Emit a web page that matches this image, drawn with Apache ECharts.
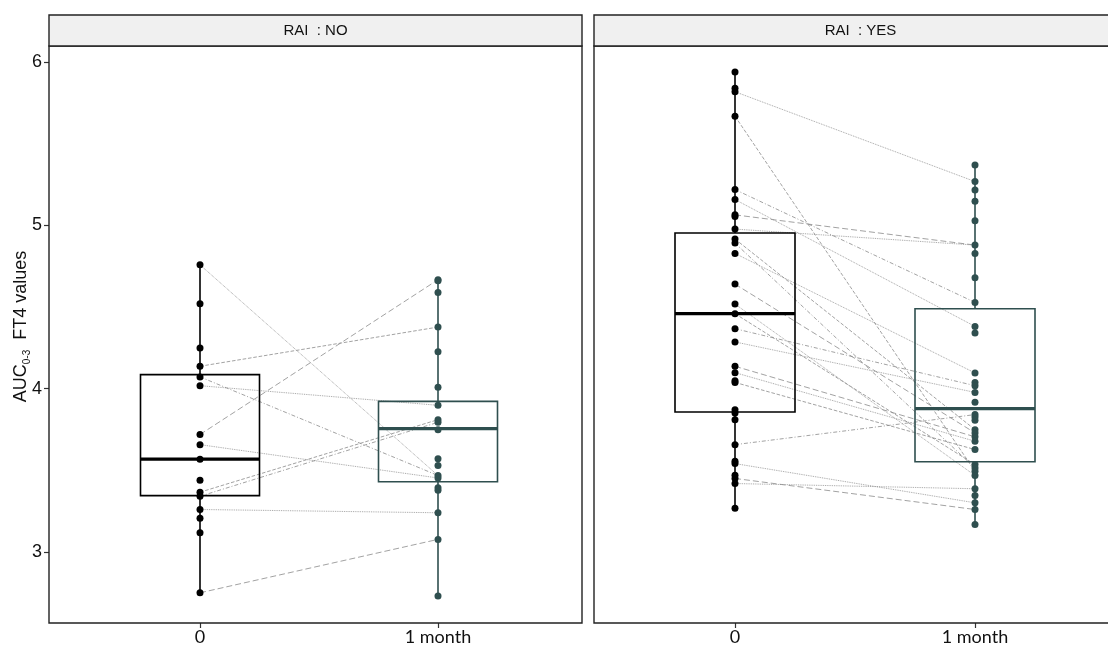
<!DOCTYPE html>
<html>
<head>
<meta charset="utf-8">
<script src="https://cdn.jsdelivr.net/npm/echarts@6/dist/echarts.min.js"></script>
<style>html,body{margin:0;padding:0;background:#fff}#c{width:1108px;height:649px}</style>
</head>
<body>
<div id="c"></div>
<script>
// ---------- data ----------
const timeLabels = ["0", "1 month"];
const panelTitles = ["RAI  : NO", "RAI  : YES"];
const yTicks = [3, 4, 5, 6];

// RAI : NO
const noBaseline = [4.758, 4.52, 4.249, 4.137, 4.072, 4.018, 3.719, 3.657, 3.568, 3.439, 3.366, 3.341, 3.26, 3.207, 3.117, 2.75];
const noMonth = [4.667, 4.66, 4.589, 4.377, 4.226, 4.008, 3.898, 3.81, 3.794, 3.749, 3.57, 3.529, 3.468, 3.453, 3.393, 3.378, 3.24, 3.077, 2.73];
const noPairs = [[4.758, 3.468], [4.137, 4.377], [4.072, 3.468], [4.018, 3.898], [3.719, 4.667], [3.657, 3.453], [3.366, 3.81], [3.341, 3.794], [3.26, 3.24], [2.75, 3.077]];
const noBox0 = [2.75, 3.345, 3.568, 4.086, 4.758];   // min, Q1, median, Q3, max
const noBox1 = [2.73, 3.43, 3.755, 3.922, 4.667];

// RAI : YES
const yesBaseline = [5.939, 5.839, 5.818, 5.668, 5.219, 5.158, 5.064, 5.054, 4.977, 4.916, 4.891, 4.828, 4.64, 4.518, 4.459, 4.367, 4.286, 4.137, 4.098, 4.049, 4.038, 3.871, 3.851, 3.81, 3.657, 3.555, 3.541, 3.47, 3.45, 3.419, 3.268];
const yesMonth = [5.37, 5.268, 5.217, 5.148, 5.028, 4.879, 4.828, 4.679, 4.528, 4.381, 4.34, 4.096, 4.038, 4.018, 3.977, 3.916, 3.841, 3.827, 3.806, 3.749, 3.729, 3.705, 3.678, 3.627, 3.535, 3.514, 3.494, 3.468, 3.387, 3.346, 3.301, 3.26, 3.168];
const yesPairs = [[5.818, 5.268], [5.668, 3.494], [5.219, 4.528], [5.158, 4.381], [5.064, 4.879], [4.977, 4.879], [4.916, 3.749], [4.891, 3.514], [4.828, 4.096], [4.64, 3.729], [4.518, 3.468], [4.459, 3.535], [4.367, 4.018], [4.286, 3.977], [4.137, 3.705], [4.098, 3.678], [4.038, 3.627], [3.657, 3.841], [3.541, 3.301], [3.45, 3.26], [3.419, 3.387]];
const yesBox0 = [3.268, 3.857, 4.459, 4.953, 5.939];
const yesBox1 = [3.168, 3.552, 3.878, 4.489, 5.37];

// ---------- styling / layout ----------
const colors = ["#000000", "#2f4f4f"];
const W = 1108;
const panels = [
  { left: 49, width: 533, x0: 200, unit: 238 },
  { left: 594, width: 533, x0: 735, unit: 240 }
];
const stripTop = 15, stripH = 31;
const gridTop = 46, gridHeight = 577;
const yMin = 2.565, yMax = 6.098;
const dashTypes = ['dotted', 'dashed', [4, 2, 1, 2], 'dotted', [6, 3]];

const chart = echarts.init(document.getElementById('c'), null, { renderer: 'canvas' });

function boxRender(params, api) {
  const x = api.value(0);
  const mn = api.value(1), q1 = api.value(2), md = api.value(3), q3 = api.value(4), mx = api.value(5);
  const hw = 0.25;
  const col = colors[x];
  const tl = api.coord([x - hw, q3]);
  const br = api.coord([x + hw, q1]);
  const c = api.coord([x, md]);
  const top = api.coord([x, mx]);
  const bot = api.coord([x, mn]);
  const mL = api.coord([x - hw, md]);
  const mR = api.coord([x + hw, md]);
  return {
    type: 'group',
    children: [
      { type: 'line', shape: { x1: top[0], y1: top[1], x2: top[0], y2: tl[1] }, style: { stroke: col, lineWidth: 1.6 } },
      { type: 'line', shape: { x1: bot[0], y1: br[1], x2: bot[0], y2: bot[1] }, style: { stroke: col, lineWidth: 1.6 } },
      { type: 'rect', shape: { x: tl[0], y: tl[1], width: br[0] - tl[0], height: br[1] - tl[1] }, style: { fill: 'none', stroke: col, lineWidth: 1.6 } },
      { type: 'line', shape: { x1: mL[0], y1: c[1], x2: mR[0], y2: c[1] }, style: { stroke: col, lineWidth: 3.2 } }
    ]
  };
}

const grids = [], xAxes = [], yAxes = [], series = [], graphics = [];
const panelData = [
  { base: noBaseline, month: noMonth, pairs: noPairs, box0: noBox0, box1: noBox1 },
  { base: yesBaseline, month: yesMonth, pairs: yesPairs, box0: yesBox0, box1: yesBox1 }
];

panels.forEach((p, i) => {
  const visW = Math.min(p.width, W - p.left);
  const xmin = (p.left - p.x0) / p.unit;
  const xmax = xmin + visW / p.unit;
  grids.push({ left: p.left, top: gridTop, width: visW, height: gridHeight, show: false, containLabel: false });
  xAxes.push({
    type: 'value', gridIndex: i, min: xmin, max: xmax,
    axisLine: { show: false, onZero: false }, splitLine: { show: false },
    axisTick: { show: true, length: 5, lineStyle: { color: '#333', width: 1.2 }, customValues: [0, 1] },
    axisLabel: { show: true, customValues: [0, 1], formatter: v => timeLabels[Math.round(v)], color: '#111', fontSize: 18, fontFamily: 'Lato', margin: 5 }
  });
  yAxes.push({
    type: 'value', gridIndex: i, min: yMin, max: yMax,
    axisLine: { show: false, onZero: false }, splitLine: { show: false },
    axisTick: { show: i === 0, length: 5, lineStyle: { color: '#333', width: 1.2 }, customValues: yTicks },
    axisLabel: { show: i === 0, customValues: yTicks, color: '#111', fontSize: 18, fontFamily: 'Liberation Sans', margin: 7 },
    name: i === 0 ? '{a|AUC}{s|0-3}{a|  FT4 values}' : '',
    nameLocation: 'middle', nameGap: 17, nameRotate: 90, nameMoveOverlap: false,
    nameTextStyle: {
      padding: [0, 0, 0, 16],
      rich: {
        a: { fontSize: 18, fontFamily: 'Liberation Sans', color: '#111', lineHeight: 22 },
        s: { fontSize: 10, fontFamily: 'Liberation Sans', color: '#111', lineHeight: 22, verticalAlign: 'bottom', padding: [7, 0, 0, 0] }
      }
    }
  });

  const d = panelData[i];
  series.push({
    type: 'lines', coordinateSystem: 'cartesian2d', xAxisIndex: i, yAxisIndex: i, silent: true, z: 2,
    data: d.pairs.map((pr, k) => ({
      coords: [[0, pr[0]], [1, pr[1]]],
      lineStyle: { color: '#8c8c8c', width: 0.9, type: dashTypes[k % dashTypes.length], opacity: 0.9 }
    }))
  });
  series.push({
    type: 'custom', xAxisIndex: i, yAxisIndex: i, z: 3, silent: true,
    renderItem: boxRender,
    encode: { x: 0, y: [1, 2, 3, 4, 5] },
    data: [[0].concat(d.box0), [1].concat(d.box1)]
  });
  series.push({
    type: 'scatter', xAxisIndex: i, yAxisIndex: i, z: 4, symbolSize: 7,
    itemStyle: { color: colors[0], opacity: 1 },
    data: d.base.map(v => [0, v])
  });
  series.push({
    type: 'scatter', xAxisIndex: i, yAxisIndex: i, z: 4, symbolSize: 7,
    itemStyle: { color: colors[1], opacity: 1 },
    data: d.month.map(v => [1, v])
  });

  graphics.push(
    { type: 'rect', silent: true, z: 100, shape: { x: p.left, y: gridTop, width: p.width, height: gridHeight }, style: { fill: 'none', stroke: '#222', lineWidth: 1.4 } },
    { type: 'rect', silent: true, z: 100, shape: { x: p.left, y: stripTop, width: p.width, height: stripH }, style: { fill: '#f0f0f0', stroke: '#222', lineWidth: 1.4 } },
    { type: 'text', silent: true, z: 101, x: p.left + p.width / 2, y: stripTop + stripH / 2,
      style: { text: panelTitles[i], fill: '#111', font: '15px "Liberation Sans"', textAlign: 'center', textVerticalAlign: 'middle' } }
  );
});

chart.setOption({
  animation: false,
  backgroundColor: '#fff',
  grid: grids,
  xAxis: xAxes,
  yAxis: yAxes,
  series: series,
  graphic: graphics
});
</script>
</body>
</html>
